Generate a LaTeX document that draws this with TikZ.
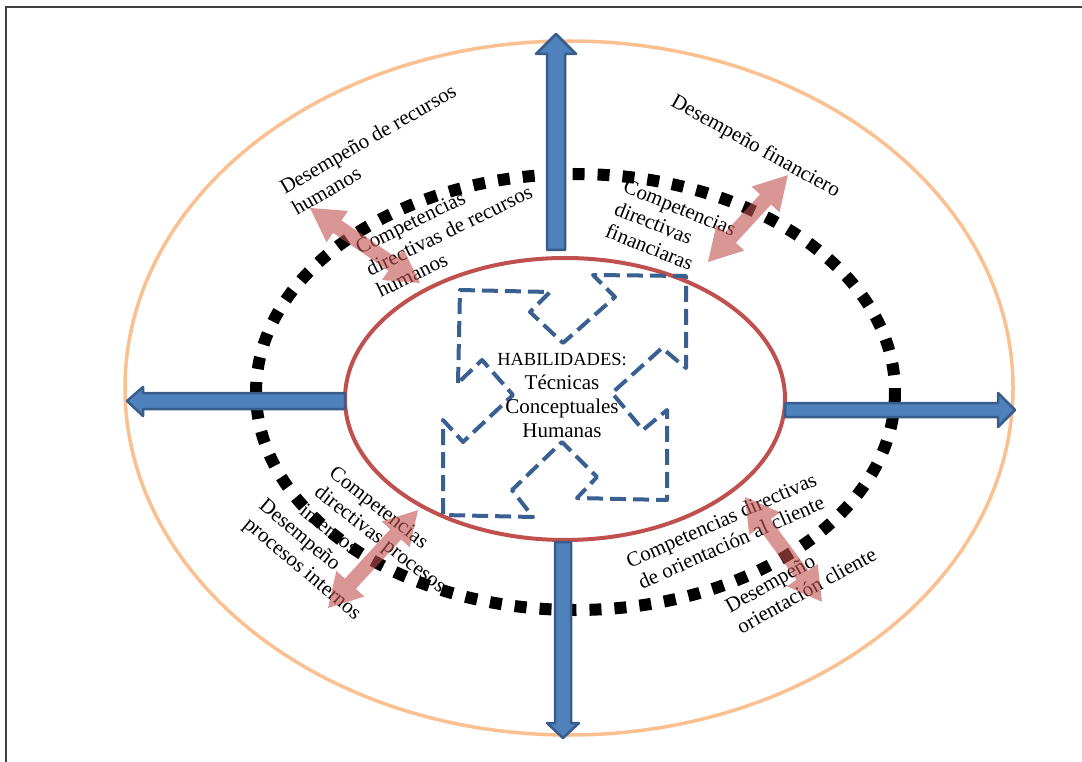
\documentclass[tikz,border=0pt]{standalone}
\usepackage{fontspec}
\setmainfont{Liberation Serif}
\definecolor{orangeline}{HTML}{FAC090}
\definecolor{redline}{HTML}{C0504D}
\definecolor{puzzleblue}{HTML}{3A5F91}
\definecolor{arrowfill}{HTML}{4F81BD}
\definecolor{arrowedge}{HTML}{385D8A}
\definecolor{framegray}{HTML}{404040}
\begin{document}
\begin{tikzpicture}[x=1pt,y=-1pt,
  frame/.style={draw=framegray, line width=2pt},
  outerring/.style={draw=orangeline, line width=3.5pt},
  dotring/.style={draw=black, line width=12pt, dash pattern=on 12pt off 13pt},
  innerring/.style={draw=redline, line width=4pt},
  puzzle/.style={draw=puzzleblue, line width=4pt, dash pattern=on 16pt off 7pt, line join=round},
  bluearrow/.style={fill=arrowfill, draw=arrowedge, line width=2.5pt, line join=round},
  pinkfill/.style={fill=redline, fill opacity=0.6},
  lbl/.style={font=\fontsize{21}{24}\selectfont, inner sep=0pt, align=left},
  pics/dblarrow/.style={code={
    \fill[pinkfill] (0,0) -- (33,-19) -- (33,-7.5) -- (#1-33,-7.5) -- (#1-33,-19)
      -- (#1,0) -- (#1-33,19) -- (#1-33,7.5) -- (33,7.5) -- (33,19) -- cycle;}},
]
\useasboundingbox (0,0) rectangle (1082,762);

% page frame
\draw[frame] (1082,7.5) -- (6,7.5) -- (6,762);

% the three rings
\draw[outerring] (569,388) ellipse [x radius=444, y radius=347];
\draw[dotring] (575.5,392) ellipse [x radius=319.5, y radius=218];
\draw[innerring] (565,399) ellipse [x radius=220, y radius=141];

% dashed interlocking pieces in the core
\draw[puzzle] (458,383) -- (460,290) -- (550,292) -- (530,312) -- (563,343)
  -- (615,297) -- (593,275) -- (686,276) -- (686,368) -- (662,348)
  -- (612,393) -- (643,430) -- (667,410) -- (667,500) -- (577,498)
  -- (597,477) -- (562,442) -- (512,490) -- (533,517) -- (443,515)
  -- (443,420) -- (463,442) -- (513,395) -- (482,360) -- cycle;

% outward block arrows
\draw[bluearrow] (547,250) -- (547,54) -- (536,54) -- (556,34) -- (576,54) -- (565,54) -- (565,250) -- cycle;
\draw[bluearrow] (345,393) -- (143,393) -- (143,387) -- (127,401) -- (143,416) -- (143,409) -- (345,409) -- cycle;
\draw[bluearrow] (785,403) -- (998,403) -- (998,393) -- (1015,410) -- (998,427) -- (998,417) -- (785,417) -- cycle;
\draw[bluearrow] (555,542) -- (555,723) -- (547,723) -- (563,738) -- (579,723) -- (571,723) -- (571,542) -- cycle;

% core text
\node[font=\fontsize{21}{24}\selectfont, align=center, inner sep=0pt] (core) at (562,395)
  {{\fontsize{18.5}{24}\selectfont HABILIDADES:}\\Técnicas\\Conceptuales\\Humanas};

% labels around the rings
\node[lbl, rotate=30] (hrPerf) at (373.8,149.3) {Desempeño de recursos\\humanos};
\node[lbl, rotate=26] (hrComp) at (449.2,230.3) {Competencias\\directivas de recursos\\humanos};
\node[lbl, rotate=-29] (finPerf) at (755.3,147) {Desempeño financiero};
\node[lbl, rotate=-22] (finComp) at (670.9,230) {Competencias\\directivas\\financiaras};
\node[lbl, rotate=-38] (procComp) at (380.8,538.7) {Competencias\\directivas procesos\\internos};
\node[lbl, rotate=-40] (procPerf) at (309.5,560.3) {Desempeño\\procesos internos};
\node[lbl, rotate=24, align=center] (custComp) at (726.1,531) {Competencias directivas\\de orientación al cliente};
\node[lbl, rotate=29] (custPerf) at (800.6,579.9) {Desempeño\\orientación cliente};

% two-way links between competencies and performance
\coordinate (hrTip) at (310,208);
\coordinate (finTip) at (708,262);
\coordinate (procTip) at (328,608);
\coordinate (custTip) at (745,497);
\path (hrTip) pic[rotate=-34.3] {dblarrow=133};
\path (finTip) pic[rotate=47.4] {dblarrow=118};
\path (procTip) pic[rotate=47.4] {dblarrow=133};
\path (custTip) pic[rotate=-53.7] {dblarrow=130};
\end{tikzpicture}
\end{document}
